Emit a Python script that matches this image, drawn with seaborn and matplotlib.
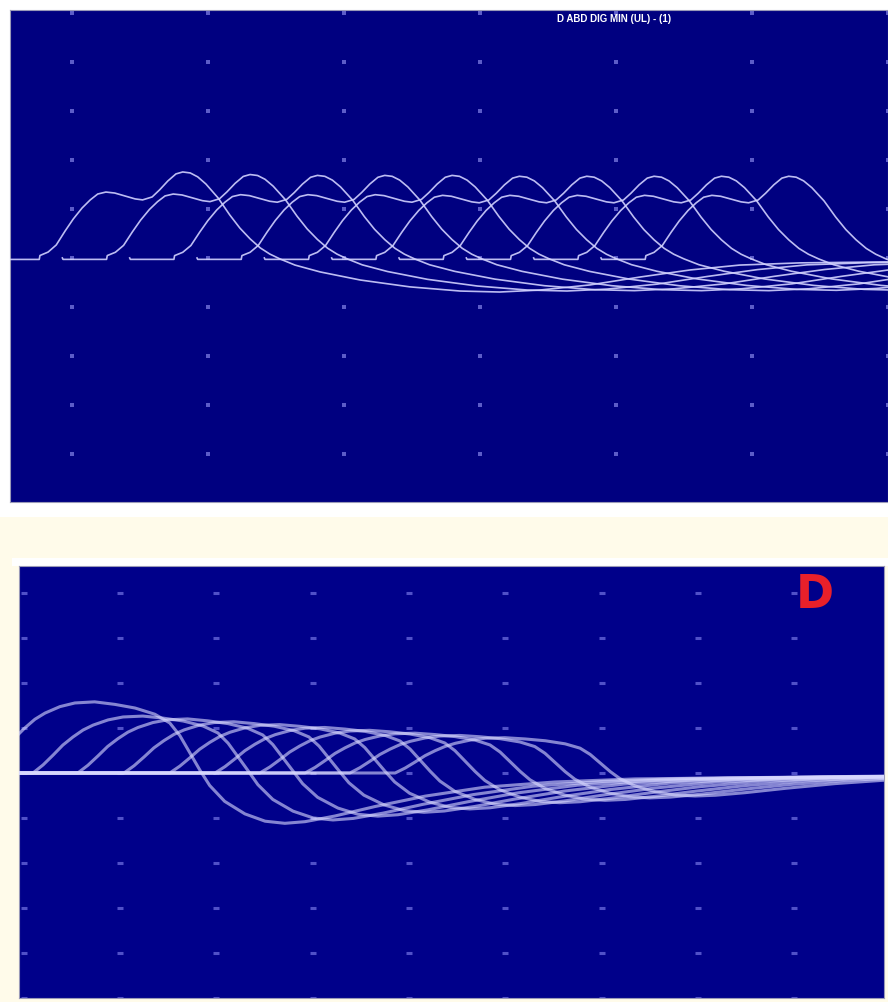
import numpy as np
import pandas as pd
import matplotlib
matplotlib.use("Agg")
import matplotlib.pyplot as plt
from matplotlib.patches import Rectangle
import seaborn as sns

# ---------------- data ----------------
# Top panel: one CMAP waveform template (time after stimulus, ms / amplitude, mV)
top_t = [-0.66, -0.65, -0.01, 0.0, 0.12, 0.24, 0.37, 0.49, 0.62, 0.74, 0.85, 0.97,
         1.10, 1.25, 1.40, 1.51, 1.65, 1.76, 1.88, 2.00, 2.10, 2.21, 2.32, 2.44,
         2.62, 2.79, 2.94, 3.09, 3.24, 3.38, 3.53, 3.75, 4.12, 4.71, 5.44, 6.18,
         6.76, 7.35, 8.09, 8.82, 9.56, 10.29, 11.18, 12.5]
top_v = [0.0, -0.06, -0.06, 0.10, 0.24, 0.53, 1.10, 1.59, 2.04, 2.37, 2.61, 2.69,
         2.65, 2.53, 2.41, 2.37, 2.49, 2.78, 3.14, 3.43, 3.51, 3.47, 3.31, 3.02,
         2.45, 1.76, 1.22, 0.78, 0.41, 0.16, -0.04, -0.29, -0.57, -0.90, -1.18, -1.35,
         -1.39, -1.31, -1.10, -0.78, -0.49, -0.29, -0.20, -0.16]
top_onsets = [-0.47, 0.52, 1.51, 2.50, 3.49, 4.48, 5.47, 6.46, 7.45, 8.44]
top_scale = [1.0, 0.97, 0.96, 0.96, 0.96, 0.95, 0.95, 0.95, 0.95, 0.95]
top_title = "D ABD DIG MIN (UL) - (1)"

# Bottom panel: waveform template (ms / mV)
bot_t = [-10.38, 0.0, 0.21, 0.42, 0.62, 0.83, 1.04, 1.25, 1.56, 1.87, 2.28, 2.70,
         3.12, 3.53, 3.84, 4.05, 4.26, 4.47, 4.67, 4.98, 5.40, 5.82, 6.23, 6.65,
         7.27, 8.10, 9.14, 10.38, 11.84, 13.50, 16.6, 18.7]
bot_v = [0.0, 0.0, 0.36, 0.80, 1.24, 1.60, 1.91, 2.13, 2.36, 2.49, 2.53, 2.44,
         2.31, 2.09, 1.78, 1.33, 0.71, 0.09, -0.53, -1.20, -1.73, -2.04, -2.13, -2.06,
         -1.82, -1.42, -0.98, -0.60, -0.38, -0.25, -0.18, -0.13]
bot_onsets = [-0.81, 0.19, 1.12, 2.08, 3.03, 3.97, 4.90, 5.84, 6.77, 7.71]
bot_pos_scale = [1.25, 1.0, 0.95, 0.9, 0.85, 0.8, 0.75, 0.7, 0.66, 0.62]
bot_neg_scale = [1.05, 0.98, 0.9, 0.82, 0.75, 0.68, 0.62, 0.57, 0.52, 0.48]
bot_label = "D"

# ---------------- build long-form tables ----------------
rows = []
for k, (o, s) in enumerate(zip(top_onsets, top_scale)):
    for t, v in zip(top_t, top_v):
        rows.append((k, o + t, v * s))
df_top = pd.DataFrame(rows, columns=["trace", "t", "v"])

rows = []
for k, (o, ps, ns) in enumerate(zip(bot_onsets, bot_pos_scale, bot_neg_scale)):
    for t, v in zip(bot_t, bot_v):
        rows.append((k, o + t, v * (ps if v > 0 else ns)))
df_bot = pd.DataFrame(rows, columns=["trace", "t", "v"])

# ---------------- figure ----------------
W, H = 888, 1002
fig = plt.figure(figsize=(W / 100, H / 100), dpi=100, facecolor="white")
fig.patches.append(Rectangle((0, 0), 1, 485 / H, transform=fig.transFigure,
                             facecolor="#FFFBEA", edgecolor="none", zorder=-5))
fig.patches.append(Rectangle((12 / W, 1 - 566 / H), 876 / W, 8 / H,
                             transform=fig.transFigure, facecolor="#FFFFFF",
                             edgecolor="none", zorder=-4))

navy = "#000080"

# top panel
ax1 = fig.add_axes([10 / W, 1 - 502 / H, 878 / W, 492 / H])
ax1.set_zorder(2)
ax1.set_facecolor(navy)
ax1.set_xlim(-0.91, 12.0)
ax1.set_ylim(-9.96, 10.12)
gx, gy = np.meshgrid(np.arange(0, 13, 2), np.arange(-8, 11, 2))
ax1.scatter(gx.ravel(), gy.ravel(), s=5, marker="s", color="#5C5CC8",
            linewidths=0, zorder=1)
sns.lineplot(data=df_top, x="t", y="v", units="trace", estimator=None, sort=False,
             color="#D2D2FF", lw=1.2, alpha=0.9, ax=ax1, legend=False, zorder=3)
ax1.text(0.688, 0.982, top_title, transform=ax1.transAxes, ha="center", va="center",
         color="white", fontsize=7, fontfamily="Liberation Sans", fontweight="bold")

# bottom panel
ax2 = fig.add_axes([19 / W, 1 - 998 / H, 865 / W, 432 / H])
ax2.set_zorder(2)
ax2.set_facecolor("#00008A")
ax2.set_xlim(-0.10, 17.86)
ax2.set_ylim(-10.0, 9.2)
gx, gy = np.meshgrid(np.arange(0, 17, 2), np.arange(-10, 9, 2))
ax2.scatter(gx.ravel(), gy.ravel(), s=14, marker="_", color="#5050C8",
            linewidths=2.2, zorder=1)
sns.lineplot(data=df_bot, x="t", y="v", units="trace", estimator=None, sort=False,
             color="#D8D8FF", lw=2.2, alpha=0.62, ax=ax2, legend=False, zorder=3)
ax2.text(0.920, 0.931, bot_label, transform=ax2.transAxes, ha="center", va="center",
         color="#E8202A", fontsize=33, fontfamily="DejaVu Sans", fontweight="bold")

for ax in (ax1, ax2):
    ax.set_xticks([])
    ax.set_yticks([])
    ax.set_xlabel("")
    ax.set_ylabel("")
    for sp in ax.spines.values():
        sp.set_color("#9A9AB8")
        sp.set_linewidth(0.8)

fig.savefig("out.png", dpi=100, facecolor=fig.get_facecolor())
